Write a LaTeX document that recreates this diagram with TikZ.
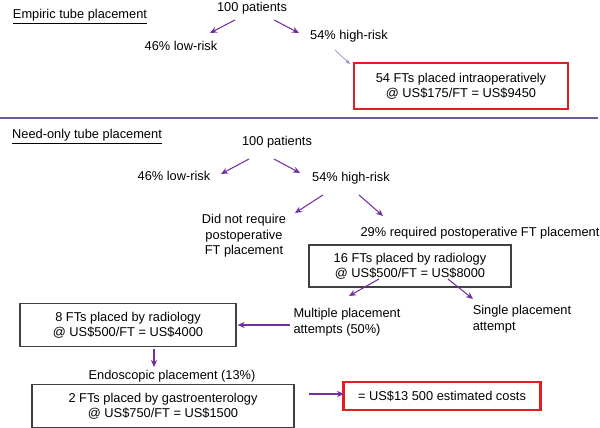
\documentclass[tikz,border=0pt]{standalone}
\usepackage{fontspec}
\setmainfont{Liberation Sans}
\usetikzlibrary{arrows.meta,calc}
\definecolor{arrpurple}{RGB}{112,48,160}
\definecolor{lightpurple}{RGB}{160,140,205}
\definecolor{linepurple}{RGB}{110,90,160}
\definecolor{boxred}{RGB}{225,30,35}
\tikzset{
  txt/.style={font=\fontsize{7.3}{8.8}\selectfont, inner sep=1pt},
  arr/.style={draw=arrpurple, line width=.6pt, -{Stealth[length=4pt,width=3.5pt]}},
  thinarr/.style={draw=lightpurple, line width=.4pt, -{Stealth[length=3pt,width=2.5pt]}},
  blkbox/.style={txt, draw=black!75, line width=.7pt, align=center},
  redbox/.style={txt, draw=boxred, line width=1.2pt, align=center}
}
\begin{document}
\begin{tikzpicture}[x=0.02cm, y=-0.02cm]
  \useasboundingbox (0,0) rectangle (600,428);
    %%empiric
    \node[txt] (title1) at (80,17) {\underline{Empiric tube placement}};
    \node[txt] (pat1) at (252,8) {100 patients};
    \node[txt] (low1) at (181,46) {46\% low-risk};
    \node[txt] (high1) at (349,36) {54\% high-risk};
    \node[redbox, minimum width=4.28cm, minimum height=0.92cm] (intra) at (461,86)
      {54 FTs placed intraoperatively\\@ US\$175/FT = US\$9450};
      \draw[arr] ($(pat1)+(-17,12)$) -- ($(low1)+(29,-13)$);
      \draw[arr] ($(pat1)+(22,12)$) -- ($(high1)+(-50,-3)$);
      \draw[thinarr] ($(high1)+(-14,14)$) -- ($(intra)+(-111,-22)$);

    %%Line
    \draw[linepurple, line width=1.1pt] (0,118) to (598,118);

    %%need-only
    \node[txt] (title2) at (87,137) {\underline{Need-only tube placement}};
    \node[txt] (pat2) at (277,142) {100 patients};
    \node[txt] (low2) at (174,176) {46\% low-risk};
    \node[txt] (high2) at (351,178) {54\% high-risk};
      \draw[arr] ($(pat2)+(-28,17)$) -- ($(low2)+(47,-2)$);
      \draw[arr] ($(pat2)+(-3,17)$) -- ($(high2)+(-51,-5)$);
    \node[txt, align=center] (noreq) at (244,236) {Did not require\\postoperative\\FT placement};
    \node[txt] (req) at (480,233) {29\% required postoperative FT placement};
      \draw[arr] ($(high2)+(-28,17)$) -- ($(noreq)+(51,-23)$);
      \draw[arr] ($(high2)+(8,17)$) -- ($(req)+(-97,-17)$);
    %%radiology 16
    \node[blkbox, minimum width=4.04cm, minimum height=0.84cm] (rad16) at (410,266)
      {16 FTs placed by radiology\\@ US\$500/FT = US\$8000};
    \node[txt, align=left] (multi) at (347,322) {Multiple placement\\attempts (50\%)};
    \node[txt, align=left] (single) at (522,319) {Single placement\\attempt};
      \draw[arr] ($(rad16)+(-31,13)$) -- ($(multi)+(2,-26)$);
      \draw[arr] ($(rad16)+(38,13)$) -- ($(single)+(-49,-20)$);
    %%radiology 8
    \node[blkbox, minimum width=4.32cm, minimum height=0.86cm] (rad8) at (128,325)
      {8 FTs placed by radiology\\@ US\$500/FT = US\$4000};
      \draw[arr] ($(multi)+(-57,3)$) -- ($(rad8.east)+(1,0)$);
    \node[txt] (endo) at (172,376) {Endoscopic placement (13\%)};
      \draw[arr] ($(rad8)+(26,24)$) -- ($(endo)+(-18,-9)$);
    %%gastro
    \node[blkbox, minimum width=5.24cm, minimum height=0.86cm] (gastro) at (163,406)
      {2 FTs placed by gastroenterology\\@ US\$750/FT = US\$1500};
    \node[redbox, minimum width=3.94cm, minimum height=0.56cm] (total) at (442,396)
      {= US\$13 500 estimated costs};
      \draw[arr] ($(gastro)+(146,-12)$) -- ($(total)+(-98,-2)$);
\end{tikzpicture}
\end{document}
